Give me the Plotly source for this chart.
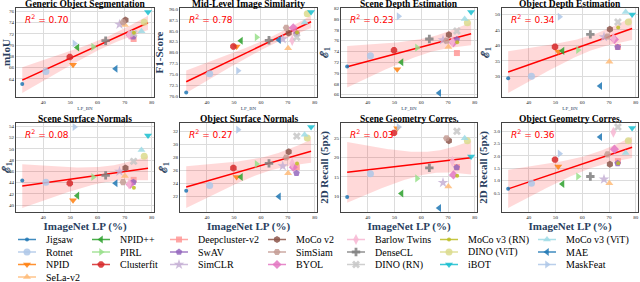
import numpy as np
import plotly.graph_objects as go

# ---------------- data ----------------
methods = ["Jigsaw", "Rotnet", "NPID", "SeLa-v2", "NPID++", "PIRL", "Clusterfit",
           "Deepcluster-v2", "SwAV", "SimCLR", "MoCo v2", "SimSiam", "BYOL",
           "Barlow Twins", "DenseCL", "DINO (RN)", "MoCo v3 (RN)", "DINO (ViT)",
           "iBOT", "MoCo v3 (ViT)", "MAE", "MaskFeat"]

lp_bn = [32.3, 41.0, 51.0, 70.1, 52.6, 58.4, 49.8, 73.3, 73.2, 68.1, 70.3, 69.4,
         72.0, 71.6, 63.0, 73.3, 73.4, 77.2, 78.6, 76.2, 66.7, 51.5]

seg_miou = [63.1, 65.3, 66.5, 73.6, 69.6, 69.7, 67.9, 71.1, 71.5, 73.7, 74.5, 74.1,
            71.8, 71.9, 70.8, 72.1, 72.2, 74.1, 75.9, 72.5, 65.8, 70.3]
sim_f1 = [70.8, 75.1, 81.4, 81.0, 82.7, 83.5, 81.4, 84.5, 84.3, 83.1, 84.5, 85.7,
          85.7, 82.8, 82.8, 83.5, 84.6, 88.9, 89.3, 86.9, 82.9, 75.8]
scene_depth = [71.2, 73.2, 70.7, 74.8, 72.0, 74.7, 74.2, 73.7, 76.2, 76.1, 77.1, 76.0,
               75.6, 75.8, 76.3, 77.8, 75.7, 79.3, 81.3, 80.0, 66.3, 80.5]
obj_depth = [29.4, 30.0, 38.0, 34.7, 38.2, 38.5, 39.5, 39.5, 39.4, 42.7, 45.2, 42.8,
             41.9, 42.3, 43.5, 47.5, 45.7, 47.5, 49.9, 50.7, 26.9, 49.2]
scene_normals = [44.4, 44.1, 40.9, 45.2, 41.7, 45.0, 43.9, 44.5, 44.1, 46.0, 46.6, 44.1,
                 43.7, 43.8, 45.3, 47.8, 43.1, 48.7, 52.4, 49.8, 43.9, 53.9]
obj_normals = [22.9, 23.7, 25.0, 25.6, 25.0, 27.0, 26.4, 26.5, 25.6, 26.7, 28.9, 28.0,
               26.5, 27.1, 27.1, 31.3, 27.1, 31.0, 32.7, 31.5, 22.0, 32.3]
scene_geo = [9.8, 15.8, 27.5, 12.5, 10.7, 14.6, 26.3, 17.5, 17.4, 13.5, 24.3, 24.9,
             15.5, 19.0, 17.3, 26.7, 15.3, 24.3, 20.2, 24.9, 7.0, 27.8]
obj_geo = [0.68, 0.90, 1.57, 0.90, 0.87, 1.17, 1.85, 1.79, 1.70, 1.06, 1.66, 2.06,
           2.27, 2.95, 1.17, 3.16, 1.70, 2.61, 3.12, 2.12, 2.76, 2.09]

task_titles = ["Generic Object Segmentation", "Mid-Level Image Similarity",
               "Scene Depth Estimation", "Object Depth Estimation",
               "Scene Surface Normals", "Object Surface Normals",
               "Scene Geometry Corres.", "Object Geometry Corres."]
task_values = [seg_miou, sim_f1, scene_depth, obj_depth,
               scene_normals, obj_normals, scene_geo, obj_geo]
y_titles = ["mIoU", "F1-Score", "ℰ<sub>1</sub>", "ℰ<sub>1</sub>",
            "ℰ<sub>1</sub>", "ℰ<sub>1</sub>", "2D Recall (5px)", "2D Recall (5px)"]
r2_labels = ["0.70", "0.78", "0.23", "0.34", "0.08", "0.27", "0.03", "0.36"]
x_ticks = [40, 50, 60, 70, 80]
y_ticks = [[64, 66, 68, 70, 72, 74, 76],
           [70.0, 72.5, 75.0, 77.5, 80.0, 82.5, 85.0, 87.5, 90.0],
           [66, 68, 70, 72, 74, 76, 78, 80, 82],
           [30, 35, 40, 45, 50],
           [40, 42, 44, 46, 48, 50, 52, 54],
           [22, 24, 26, 28, 30, 32],
           [10, 15, 20, 25],
           [0.5, 1.0, 1.5, 2.0, 2.5, 3.0]]
y_fmt = ["d", ".1f", "d", "d", "d", "d", "d", ".1f"]

# ---------------- styles ----------------
colors = ["#1f77b4", "#aec7e8", "#ff7f0e", "#ffbb78", "#2ca02c", "#98df8a", "#d62728",
          "#ff9896", "#9467bd", "#c5b0d5", "#8c564b", "#c49c94", "#e377c2", "#f7b6d2",
          "#7f7f7f", "#c7c7c7", "#bcbd22", "#dbdb8d", "#17becf", "#9edae5",
          "#1f77b4", "#aec7e8"]
symbols = ["circle", "circle", "triangle-down", "triangle-up", "triangle-left",
           "triangle-right", "octagon", "square", "pentagon", "star", "hexagon",
           "hexagon2", "diamond", "diamond-tall", "cross", "x", "circle", "circle",
           "triangle-down", "triangle-up", "triangle-left", "triangle-right"]
sizes = [4, 7, 7, 7, 7, 7, 7, 6, 7, 8, 7, 7, 7, 8, 7, 7, 4, 7, 7, 7, 7, 7]

W, H = 640, 282
col_px = [(16, 154), (180, 317), (341, 477), (502, 638)]
row_px = [(8, 97), (123, 212)]
SERIF = "Liberation Serif"

fig = go.Figure()
layout = {}
annotations = []

x_arr = np.array(lp_bn)
for k, (title, vals) in enumerate(zip(task_titles, task_values)):
    r, c = divmod(k, 4)
    n = k + 1
    xa = "x" if n == 1 else f"x{n}"
    ya = "y" if n == 1 else f"y{n}"
    y_arr = np.array(vals)

    # regression with 95% CI
    b1, b0 = np.polyfit(x_arr, y_arr, 1)
    xs = np.linspace(x_arr.min(), x_arr.max(), 100)
    yhat = b0 + b1 * xs
    m = len(x_arr)
    resid = y_arr - (b0 + b1 * x_arr)
    s = np.sqrt((resid ** 2).sum() / (m - 2))
    sxx = ((x_arr - x_arr.mean()) ** 2).sum()
    se = s * np.sqrt(1.0 / m + (xs - x_arr.mean()) ** 2 / sxx)
    tval = 2.086
    lo, hi = yhat - tval * se, yhat + tval * se

    fig.add_trace(go.Scatter(x=np.concatenate([xs, xs[::-1]]),
                             y=np.concatenate([hi, lo[::-1]]),
                             fill="toself", fillcolor="rgba(255,0,0,0.15)",
                             line=dict(width=0), mode="lines", hoverinfo="skip",
                             showlegend=False, xaxis=xa, yaxis=ya))
    fig.add_trace(go.Scatter(x=xs, y=yhat, mode="lines",
                             line=dict(color="#ff0000", width=1.5),
                             showlegend=False, xaxis=xa, yaxis=ya))
    for i, name in enumerate(methods):
        fig.add_trace(go.Scatter(x=[lp_bn[i]], y=[vals[i]], mode="markers", name=name,
                                 marker=dict(color=colors[i], symbol=symbols[i],
                                             size=sizes[i], opacity=0.85,
                                             line=dict(width=0)),
                                 showlegend=False, xaxis=xa, yaxis=ya))

    ymin = min(y_arr.min(), lo.min())
    ymax = max(y_arr.max(), hi.max())
    pad = 0.05 * (ymax - ymin)
    x0, x1 = col_px[c]
    top, bot = row_px[r]
    xtitle = dict(text="LP_BN", font=dict(size=5, family=SERIF), standoff=2) if r == 0 else \
        dict(text="<b>ImageNet LP (%)</b>", font=dict(size=11, family=SERIF), standoff=1)
    layout["xaxis" if n == 1 else f"xaxis{n}"] = dict(
        domain=[x0 / W, x1 / W], anchor=ya, range=[30.0, 80.8], tickvals=x_ticks,
        showgrid=True, gridcolor="#dcdcdc", gridwidth=0.8, zeroline=False,
        showline=True, mirror=True, linecolor="#444", linewidth=0.8, automargin=False,
        ticks="", tickfont=dict(size=5, family=SERIF, color="#222"), title=xtitle)
    layout["yaxis" if n == 1 else f"yaxis{n}"] = dict(
        domain=[1 - bot / H, 1 - top / H], anchor=xa, range=[ymin - pad, ymax + pad],
        tickvals=y_ticks[k], tickformat=y_fmt[k], automargin=False,
        showgrid=True, gridcolor="#dcdcdc", gridwidth=0.8, zeroline=False,
        showline=True, mirror=True, linecolor="#444", linewidth=0.8,
        ticks="", tickfont=dict(size=5, family=SERIF, color="#222"),
        title=dict(text=f"<b>{y_titles[k]}</b>", font=dict(size=11, family=SERIF),
                   standoff=3))
    annotations.append(dict(text=f"<b>{title}</b>", xref=f"{xa} domain", yref=f"{ya} domain",
                            x=0.5, y=1.0, xanchor="center", yanchor="middle", showarrow=False,
                            font=dict(size=9.5, family=SERIF, color="black"), yshift=4.5))
    annotations.append(dict(text=f"<i>R</i><sup>2</sup> = {r2_labels[k]}",
                            xref=f"{xa} domain", yref=f"{ya} domain",
                            x=0.05, y=0.97, xanchor="left", yanchor="top", showarrow=False,
                            font=dict(size=9, family="DejaVu Sans", color="#ff0000")))

# ---------------- legend (7 columns, column-major) ----------------
leg_col_sizes = [4, 3, 3, 3, 3, 3, 3]
leg_col_x = [18, 92, 170, 268, 347, 440, 538]
leg_row_y0, leg_row_dy = 239.5, 12.5
idx = 0
for ci, cnt in enumerate(leg_col_sizes):
    for ri in range(cnt):
        i = idx
        lx = leg_col_x[ci]
        ly = leg_row_y0 + ri * leg_row_dy
        fig.add_trace(go.Scatter(x=[lx, lx + 18], y=[ly, ly], mode="lines",
                                 line=dict(color=colors[i], width=1.5), opacity=0.85,
                                 showlegend=False, hoverinfo="skip", xaxis="x9", yaxis="y9"))
        fig.add_trace(go.Scatter(x=[lx + 9], y=[ly], mode="markers",
                                 marker=dict(color=colors[i], symbol=symbols[i],
                                             size=sizes[i], opacity=0.85, line=dict(width=0)),
                                 showlegend=False, hoverinfo="skip", xaxis="x9", yaxis="y9"))
        annotations.append(dict(text=methods[i], x=lx + 26, y=ly, xref="x9", yref="y9",
                                xanchor="left", yanchor="middle", showarrow=False,
                                font=dict(size=10, family=SERIF, color="black")))
        idx += 1

layout["xaxis9"] = dict(domain=[0, 1], range=[0, W], visible=False, anchor="y9",
                        automargin=False)
layout["yaxis9"] = dict(domain=[0, 0.2], range=[H, H - 0.2 * H], visible=False, anchor="x9",
                        automargin=False)

fig.update_layout(width=W, height=H, margin=dict(l=0, r=0, t=0, b=0, autoexpand=False),
                  paper_bgcolor="white", plot_bgcolor="white", showlegend=False,
                  annotations=annotations, font=dict(family=SERIF), **layout)
fig.write_html("out.html", config={"displayModeBar": False},
               post_script="document.body.style.margin='0px';")
